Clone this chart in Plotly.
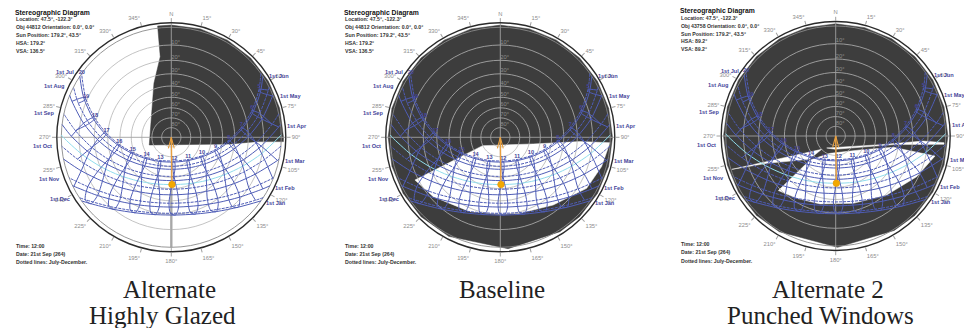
import math
import plotly.graph_objects as go

# ---------- sun path readings: clock hour, azimuth (deg), altitude (deg) ----------
date_names = ["1st Jan", "1st Feb", "1st Mar", "1st Apr", "1st May", "1st Jun",
              "1st Jul", "1st Aug", "1st Sep", "1st Oct", "1st Nov", "1st Dec"]

hours_jan = [9, 10, 11, 12, 13, 14, 15, 16]
az_jan = [136.2, 148.8, 162.4, 176.9, 191.5, 205.5, 218.5, 230.5]
alt_jan = [7.3, 13.4, 17.6, 19.4, 18.7, 15.5, 10.1, 3.0]

hours_feb = [8, 9, 10, 11, 12, 13, 14, 15, 16, 17]
az_feb = [119.4, 131.2, 144.2, 158.6, 174.0, 189.8, 205.0, 219.0, 231.7, 243.3]
alt_feb = [2.6, 10.9, 17.7, 22.6, 25.0, 24.7, 21.6, 16.3, 9.0, 0.5]

hours_mar = [7, 8, 9, 10, 11, 12, 13, 14, 15, 16, 17]
az_mar = [102.3, 113.7, 126.1, 140.1, 156.0, 173.5, 191.5, 208.7, 224.0, 237.5, 249.6]
alt_mar = [0.7, 10.4, 19.1, 26.5, 31.9, 34.6, 34.1, 30.7, 24.6, 16.8, 7.7]

hours_apr = [6, 7, 8, 9, 10, 11, 12, 13, 14, 15, 16, 17, 18]
az_apr = [84.5, 95.6, 107.3, 120.4, 135.7, 154.1, 175.2, 196.9, 216.6, 233.2, 247.2, 259.4, 270.6]
alt_apr = [1.1, 11.2, 21.1, 30.4, 38.4, 44.2, 46.9, 45.8, 41.3, 34.1, 25.3, 15.6, 5.5]

hours_may = [5, 6, 7, 8, 9, 10, 11, 12, 13, 14, 15, 16, 17, 18, 19]
az_may = [67.8, 78.6, 89.4, 100.9, 114.1, 130.5, 151.5, 177.1, 203.4, 225.5, 242.7, 256.4, 268.2, 279.1, 289.9]
alt_may = [0.3, 9.9, 20.0, 30.1, 39.7, 48.3, 54.7, 57.5, 55.7, 49.9, 41.7, 32.2, 22.2, 12.1, 2.3]

hours_jun = [5, 6, 7, 8, 9, 10, 11, 12, 13, 14, 15, 16, 17, 18, 19]
az_jun = [63.1, 73.5, 83.9, 94.9, 107.7, 123.9, 146.3, 176.1, 207.2, 231.4, 248.9, 262.2, 273.6, 284.0, 294.4]
alt_jun = [5.5, 14.9, 24.8, 34.9, 44.8, 54.0, 61.2, 64.5, 62.4, 55.9, 47.1, 37.3, 27.2, 17.2, 7.6]

hours_jul = [5, 6, 7, 8, 9, 10, 11, 12, 13, 14, 15, 16, 17, 18, 19, 20]
az_jul = [61.4, 71.7, 82.0, 92.8, 105.3, 121.0, 142.9, 172.9, 205.2, 230.6, 248.6, 262.1, 273.5, 283.9, 294.1, 304.8]
alt_jul = [5.5, 14.7, 24.6, 34.7, 44.7, 54.0, 61.6, 65.5, 63.8, 57.6, 48.8, 39.0, 28.9, 18.9, 9.3, 0.5]

hours_aug = [5, 6, 7, 8, 9, 10, 11, 12, 13, 14, 15, 16, 17, 18, 19]
az_aug = [64.1, 74.8, 85.4, 96.6, 109.3, 125.0, 145.7, 172.3, 200.7, 224.7, 242.8, 256.9, 268.8, 279.6, 290.1]
alt_aug = [1.1, 10.5, 20.5, 30.6, 40.5, 49.5, 56.6, 60.3, 59.1, 53.6, 45.5, 36.0, 25.9, 15.8, 6.0]

hours_sep = [6, 7, 8, 9, 10, 11, 12, 13, 14, 15, 16, 17, 18]
az_sep = [82.7, 93.7, 105.4, 118.6, 134.5, 153.8, 176.4, 199.5, 220.0, 236.8, 250.7, 262.8, 274.0]
alt_sep = [4.6, 14.7, 24.7, 34.0, 42.2, 48.1, 50.8, 49.3, 44.3, 36.7, 27.6, 17.8, 7.7]

hours_oct = [7, 8, 9, 10, 11, 12, 13, 14, 15, 16, 17]
az_oct = [103.4, 115.2, 128.5, 143.7, 161.2, 180.3, 199.3, 216.7, 231.9, 245.1, 256.9]
alt_oct = [7.9, 17.4, 26.0, 33.1, 37.8, 39.4, 37.7, 32.9, 25.8, 17.2, 7.6]

hours_nov = [7, 8, 9, 10, 11, 12, 13, 14, 15, 16]
az_nov = [112.0, 123.5, 136.1, 150.1, 165.6, 182.0, 198.2, 213.4, 227.1, 239.4]
alt_nov = [0.3, 9.3, 17.1, 23.2, 27.0, 28.1, 26.3, 21.9, 15.3, 7.2]

hours_dec = [8, 9, 10, 11, 12, 13, 14, 15, 16]
az_dec = [126.8, 138.6, 151.6, 165.7, 180.6, 195.2, 209.3, 222.2, 234.0]
alt_dec = [2.6, 10.0, 15.8, 19.5, 20.7, 19.3, 15.5, 9.5, 2.0]

rise_az = [125.3, 116.1, 101.4, 83.3, 67.5, 56.3, 54.5, 62.8, 77.7, 94.6, 111.6, 123.3]
set_az = [234.7, 243.9, 258.6, 276.7, 292.5, 303.7, 305.5, 297.2, 282.3, 265.4, 248.4, 236.7]

today_az = [88.8, 100.2, 112, 125.3, 140.9, 159, 179.2, 199.4, 217.8, 233.5, 247, 258.9, 270, 271.2]
today_alt = [0, 10.3, 20.0, 28.9, 36.3, 41.4, 43.5, 41.7, 36.8, 29.5, 20.7, 11.1, 1.0, 0]

sun_az, sun_alt = 179.2, 43.5

# ---------- obstruction outlines: azimuth (deg), radius as a fraction of the horizon ----------
dark1_az = [353, 0, 15, 30, 45, 60, 75, 90, 92.2, 92.9, 96.5, 250.8, 342.2, 352.2, 353]
dark1_r = [1.02, 1.02, 1.02, 1.02, 1.02, 1.02, 1.02, 1.02, 1.02, 0.777, 0.537, 0.212, 0.516, 0.74, 1.02]

dark2_az = [0, 15, 30, 45, 60, 75, 90, 105, 120, 135, 147.7, 176, 207.5, 225, 240, 255, 270, 285, 300, 315, 330, 345, 360]
dark2_r = [1.02] * 10 + [1.015, 1.015, 1.015] + [1.02] * 10
win2_az = [244.7, 243.4, 228.5, 202.2, 180.2, 165.5, 142, 120.6, 106.1, 92.8, 93.1, 101.4, 244.7]
win2_r = [0.178, 0.868, 0.814, 0.73, 0.697, 0.714, 0.781, 0.912, 0.959, 0.998, 0.725, 0.306, 0.178]

dark3_az = [0, 15, 30, 45, 60, 75, 90, 105, 120, 135, 148.2, 179, 210.5, 225, 240, 255, 270, 285, 300, 315, 330, 345, 360]
dark3_r = [1.02] * 10 + [1.01, 1.012, 1.01] + [1.02] * 10
win3_az = [226.4, 212, 193, 165.3, 139.2, 116.7, 101.4, 101.1, 119.9, 198.1, 226.9, 226.4]
win3_r = [0.72, 0.668, 0.634, 0.633, 0.709, 0.824, 0.921, 0.535, 0.255, 0.166, 0.319, 0.72]
top3_az = [216.9, 101.1, 93.3, 93.5, 94.4, 98.5, 183, 216.9]
top3_r = [0.136, 0.411, 0.798, 0.987, 0.988, 0.53, 0.121, 0.136]
left3_az = [252.2, 226.4, 228.5, 248.4, 252.2]
left3_r = [0.993, 0.176, 0.32, 0.675, 0.993]

ring_alts = [10, 20, 30, 40, 50, 60, 70, 80]
compass_vals = list(range(0, 360, 15))
compass_text = ["N"] + [f"{v}°" for v in compass_vals[1:]]

# ---------- texts ----------
info_top = [
    ["Location: 47.5°, -122.3°", "Obj 44812 Orientation: 0.0°, 0.0°", "Sun Position: 179.2°, 43.5°", "HSA: 179.2°", "VSA: 136.5°"],
    ["Location: 47.5°, -122.3°", "Obj 44812 Orientation: 0.0°, 0.0°", "Sun Position: 179.2°, 43.5°", "HSA: 179.2°", "VSA: 136.5°"],
    ["Location: 47.5°, -122.3°", "Obj 43758 Orientation: 0.0°, 0.0°", "Sun Position: 179.2°, 43.5°", "HSA: 89.2°", "VSA: 89.2°"],
]
info_bottom = [
    ["Time: 12:00", "Date: 21st Sep (264)", "Dotted lines: July-December."],
    ["Time: 12:00", "Date: 21st Sep (264)", "Dotted lines: July-December."],
    ["Time: 12:00", "Date: 21st Sep (264)", "Dotted lines: July-December."],
]
captions = [["Alternate", "Highly Glazed"], ["Baseline"], ["Alternate 2", "Punched Windows"]]

# ---------- layout ----------
W, H = 964, 328
R = 114.5
RMAX = 1.041
centers = [(171.3, 137.3), (500.3, 137.3), (835.7, 136.0)]
info_x = [14.3, 343.3, 679.0]
info_dy = [0, 0, -1.3]
caption_pos = [[(169.5, 289), (162, 315)], [(501.7, 289)], [(828, 289), (820, 315)]]

# date labels: offset from the chart centre, px
date_label_off = {
    "1st Jul": (-106, -65), "1st Aug": (-117, -51), "1st Sep": (-127, -24),
    "1st Oct": (-129, 9), "1st Nov": (-122, 42), "1st Dec": (-111, 62),
    "1st Jun": (108, -61), "1st May": (119, -41), "1st Apr": (126, -11.5),
    "1st Mar": (124, 24), "1st Feb": (114, 50.5), "1st Jan": (105, 65.5),
}

BLUE = "#4f5db6"
NAVY = "#45459a"
DARK = "#3d3d3d"
RING = "#b4b4b4"
GREY = "#8e8e8e"
ORANGE = "#e8a040"
SUN = "#f2a900"


def stereo(alt):
    return math.tan(math.radians(90 - alt) / 2)


tables = [
    (hours_jan, az_jan, alt_jan), (hours_feb, az_feb, alt_feb), (hours_mar, az_mar, alt_mar),
    (hours_apr, az_apr, alt_apr), (hours_may, az_may, alt_may), (hours_jun, az_jun, alt_jun),
    (hours_jul, az_jul, alt_jul), (hours_aug, az_aug, alt_aug), (hours_sep, az_sep, alt_sep),
    (hours_oct, az_oct, alt_oct), (hours_nov, az_nov, alt_nov), (hours_dec, az_dec, alt_dec),
]

fig = go.Figure()


def shape(sub, th, r, color):
    fig.add_trace(go.Scatterpolar(theta=th, r=r, subplot=sub, mode="lines", fill="toself",
                                  fillcolor=color, line=dict(color=color, width=0.5),
                                  hoverinfo="skip", showlegend=False))


def line(sub, th, r, color, width, dash="solid", smooth=False):
    fig.add_trace(go.Scatterpolar(theta=th, r=r, subplot=sub, mode="lines",
                                  line=dict(color=color, width=width, dash=dash,
                                            shape="spline" if smooth else "linear", smoothing=0.8),
                                  connectgaps=False, hoverinfo="skip", showlegend=False))


def draw_panel(i, sub):
    # thick sun-azimuth line sits underneath the obstructions
    line(sub, [180, 180], [stereo(sun_alt), 1.0], "#b8b8b8", 2.6)

    if i == 0:
        shape(sub, dark1_az, dark1_r, DARK)
    elif i == 1:
        shape(sub, dark2_az, dark2_r, DARK)
        shape(sub, win2_az, win2_r, "#ffffff")
    else:
        shape(sub, dark3_az, dark3_r, DARK)
        shape(sub, win3_az, win3_r, "#ffffff")
        shape(sub, top3_az, top3_r, "#ffffff")
        shape(sub, left3_az, left3_r, "#ffffff")

    ring_theta = list(range(0, 361, 5))
    for a in ring_alts:
        line(sub, ring_theta, [stereo(a)] * len(ring_theta), RING, 0.8)
    line(sub, ring_theta, [1.0] * len(ring_theta), "#8a8a8a", 0.9)
    line(sub, [0, 0, 180], [RMAX, 0, RMAX], "#a0a0a0", 0.9)
    line(sub, [90, 90, 270], [RMAX, 0, RMAX], "#a0a0a0", 0.9)

    # ring labels
    fig.add_trace(go.Scatterpolar(theta=[0] * len(ring_alts), r=[stereo(a) for a in ring_alts],
                                  subplot=sub, mode="text", text=[f"{a}°" for a in ring_alts],
                                  textposition="top right", cliponaxis=False,
                                  textfont=dict(family="Liberation Sans", size=5.8, color=GREY),
                                  hoverinfo="skip", showlegend=False))

    # date curves
    for k, (hrs, az, alt) in enumerate(tables):
        th = [rise_az[k]] + az + [set_az[k]]
        rr = [1.0] + [stereo(v) for v in alt] + [1.0]
        line(sub, th, rr, BLUE, 1.0, "solid" if k < 6 else "3px,1px", smooth=True)

    # today's curve
    line(sub, today_az, [stereo(v) for v in today_alt], "#8fdcec", 1.0, smooth=True)

    # hour curves: one loop through the year for each clock hour
    for h in range(5, 21):
        th, rr = [], []
        for hrs, az, alt in tables + tables[:1]:
            if h in hrs:
                j = hrs.index(h)
                th.append(az[j])
                rr.append(stereo(alt[j]))
            else:
                th.append(None)
                rr.append(None)
        line(sub, th, rr, BLUE, 1.0, smooth=True)

    # hour labels sit on the July curve
    fig.add_trace(go.Scatterpolar(theta=az_jul, r=[stereo(v) for v in alt_jul], subplot=sub,
                                  mode="text", text=[f"<b>{h}</b>" for h in hours_jul],
                                  textposition="top center", cliponaxis=False,
                                  textfont=dict(family="Liberation Sans", size=5.6, color=NAVY),
                                  hoverinfo="skip", showlegend=False))

    # sun arrow and marker
    line(sub, [sun_az, 0], [stereo(sun_alt), 0], ORANGE, 1.4)
    line(sub, [165, 0, 195], [0.104, 0, 0.104], ORANGE, 1.1)
    fig.add_trace(go.Scatterpolar(theta=[sun_az], r=[stereo(sun_alt)], subplot=sub, mode="markers",
                                  marker=dict(color=SUN, size=6.5, line=dict(color="#e89a10", width=0.8)),
                                  hoverinfo="skip", showlegend=False))


def note(px, py, text, size=5.2, color="#333333", anchor="left", family="Liberation Sans", bold=False):
    fig.add_annotation(x=px / W, y=1 - py / H, xref="paper", yref="paper", showarrow=False,
                       text=f"<b>{text}</b>" if bold else text, xanchor=anchor, yanchor="middle",
                       font=dict(family=family, size=size, color=color))


layout_extra = {}
for i, (cx, cy) in enumerate(centers):
    sub = "polar" if i == 0 else f"polar{i + 1}"
    layout_extra[sub] = dict(
        domain=dict(x=[(cx - R) / W, (cx + R) / W], y=[1 - (cy + R) / H, 1 - (cy - R) / H]),
        bgcolor="#ffffff",
        radialaxis=dict(visible=False, range=[0, RMAX]),
        angularaxis=dict(direction="clockwise", rotation=90, tickmode="array",
                         tickvals=compass_vals, ticktext=compass_text, ticks="outside", ticklen=4,
                         tickwidth=0.8, tickcolor="#a0a0a0", showgrid=False, showline=True,
                         linecolor="#2a2a2a", linewidth=1.4,
                         tickfont=dict(family="Liberation Sans", size=5.8, color=GREY)),
    )
    draw_panel(i, sub)

    # corner texts
    x0, dy = info_x[i], info_dy[i]
    note(x0 - 1, 12.7 + dy, "Stereographic Diagram", size=6.8, color="#111111", bold=True)
    for text, y in zip(info_top[i], [19.3, 27, 35, 42.7, 50.7]):
        note(x0, y + dy, text, bold=True)
    for text, y in zip(info_bottom[i], [245.7, 253.7, 262]):
        note(x0, y + dy, text, bold=True)

    # date labels
    for name in date_names:
        ox, oy = date_label_off[name]
        note(cx + ox, cy + oy, name, size=5.6, color=NAVY, anchor="center", bold=True)

    # caption
    for text, (px, py) in zip(captions[i], caption_pos[i]):
        note(px, py, text, size=25, color="#222222", anchor="center", family="Liberation Serif")

fig.update_layout(width=W, height=H, margin=dict(l=0, r=0, t=0, b=0),
                  paper_bgcolor="#ffffff", showlegend=False, **layout_extra)
fig.write_html("out.html", config={"displayModeBar": False},
               post_script="document.body.style.margin='0';document.body.style.overflow='hidden';")
